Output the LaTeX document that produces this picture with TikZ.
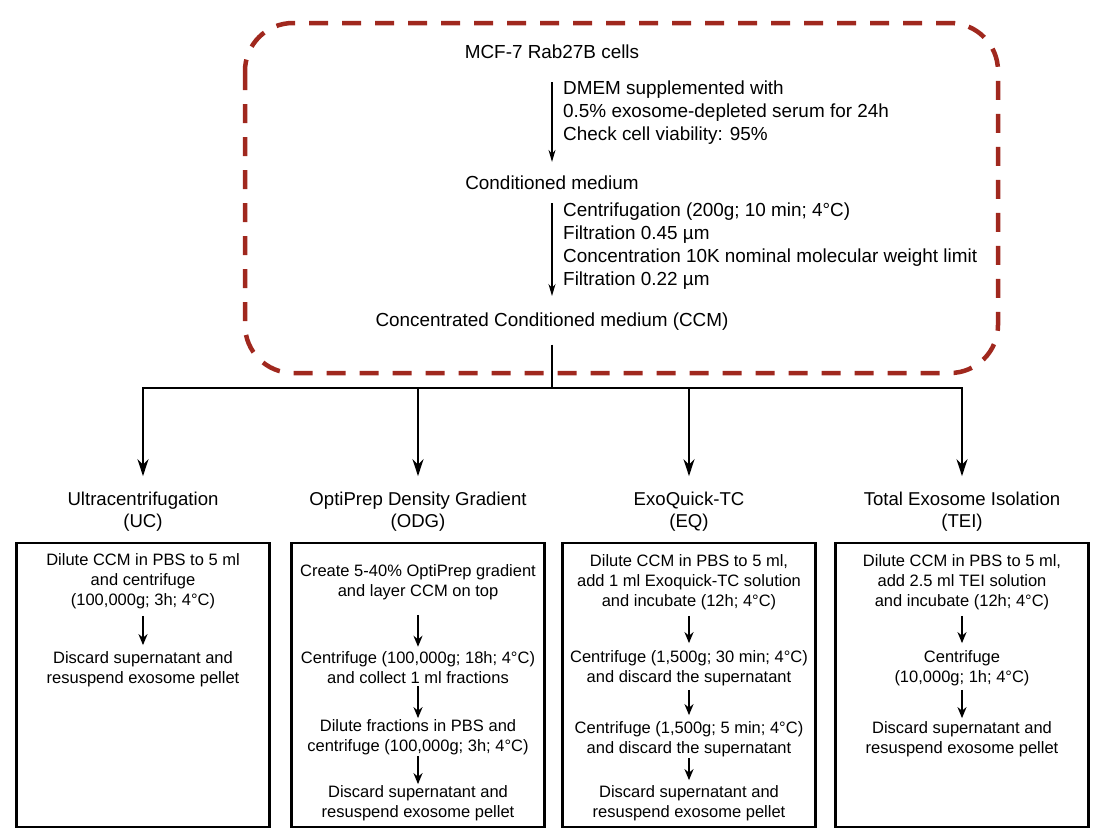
\documentclass[tikz,border=0pt]{standalone}
\usepackage{fontspec}
\setmainfont{Liberation Sans}
\usepackage{tikz}
\usetikzlibrary{positioning}
\usetikzlibrary{arrows.meta}
\definecolor{dashred}{RGB}{160,40,30}

\begin{document}
\begin{tikzpicture}[x=1pt,y=-1pt,
    toptext/.style={font=\fontsize{18.9}{23}\selectfont, inner sep=0pt},
    note/.style={font=\fontsize{18.9}{23}\selectfont, align=left, anchor=west, inner sep=0pt},
    methodtitle/.style={font=\fontsize{18.6}{22}\selectfont, align=center, inner sep=0pt},
    method/.style={draw, line width=2.4pt, minimum width=253pt, minimum height=284pt, inner sep=0pt},
    stepnode/.style={font=\fontsize{16.5}{20}\selectfont, align=center, inner sep=0pt},
    flow/.style={-{Stealth[length=12pt,width=7pt]}, line width=1.3pt},
    branch/.style={-{Stealth[length=17pt,width=11pt]}, line width=2pt},
    stepflow/.style={-{Stealth[length=11pt,width=9pt]}, line width=2pt, shorten <=5pt, shorten >=5pt}]
  \useasboundingbox (0,0) rectangle (1108,836);

  \draw[dashred, line width=4.5pt, dash pattern=on 19pt off 14pt, rounded corners=48pt]
    (245,23) rectangle (998,373);

  \node[toptext] (cells) at (552,52) {MCF-7 Rab27B cells};
  \node[toptext] (cond) at (552,183) {Conditioned medium};
  \node[toptext] (ccm) at (552,322) {Concentrated Conditioned medium (CCM)};
  \node[note] (culture) at (563,112.5) {DMEM supplemented with\\0.5\% exosome-depleted serum for 24h\\Check cell viability: 95\%};
  \node[note] (prep) at (563,246) {Centrifugation (200g; 10 min; 4°C)\\Filtration 0.45 µm\\Concentration 10K nominal molecular weight limit\\Filtration 0.22 µm};
  \draw[flow, shorten <=23pt, shorten >=14pt] (cells) -- (cond);
  \draw[flow, shorten <=13pt, shorten >=17pt] (cond) -- (ccm);

  \coordinate (split) at (552,388);
  \draw[line width=2pt, shorten <=13.5pt] (ccm) -- (split);

  \foreach \i/\x/\label in {1/143/{Ultracentrifugation\\(UC)},
                            2/418/{OptiPrep Density Gradient\\(ODG)},
                            3/689/{ExoQuick-TC\\(EQ)},
                            4/962/{Total Exosome Isolation\\(TEI)}} {
    \node[methodtitle] (title\i) at (\x,512) {\label};
    \node[method] (box\i) at (\x,685) {};
    \draw[branch, shorten >=16pt] (split) -| (title\i);
  }

  \node[stepnode] (uc1) at (143,581) {Dilute CCM in PBS to 5 ml\\and centrifuge\\(100,000g; 3h; 4°C)};
  \node[stepnode] (uc2) at (143,669) {Discard supernatant and\\resuspend exosome pellet};
  \draw[stepflow, shorten <=7pt, shorten >=6pt] (uc1) -- (uc2);

  \node[stepnode] (odg1) at (418,582) {Create 5-40\% OptiPrep gradient\\and layer CCM on top};
  \node[stepnode] (odg2) at (418,668) {Centrifuge (100,000g; 18h; 4°C)\\and collect 1 ml fractions};
  \node[stepnode] (odg3) at (418,737) {Dilute fractions in PBS and\\centrifuge (100,000g; 3h; 4°C)};
  \node[stepnode] (odg4) at (418,803) {Discard supernatant and\\resuspend exosome pellet};
  \draw[stepflow, shorten <=15pt, shorten >=5pt] (odg1) -- (odg2);
  \draw[stepflow, shorten <=2pt, shorten >=1pt] (odg2) -- (odg3);
  \draw[stepflow, shorten <=1pt, shorten >=1pt] (odg3) -- (odg4);

  \node[stepnode] (eq1) at (689,582) {Dilute CCM in PBS to 5 ml,\\add 1 ml Exoquick-TC solution\\and incubate (12h; 4°C)};
  \node[stepnode] (eq2) at (689,668) {Centrifuge (1,500g; 30 min; 4°C)\\and discard the supernatant};
  \node[stepnode] (eq3) at (689,739) {Centrifuge (1,500g; 5 min; 4°C)\\and discard the supernatant};
  \node[stepnode] (eq4) at (689,803) {Discard supernatant and\\resuspend exosome pellet};
  \draw[stepflow, shorten <=6pt, shorten >=7pt] (eq1) -- (eq2);
  \draw[stepflow, shorten <=4pt, shorten >=6pt] (eq2) -- (eq3);
  \draw[stepflow, shorten <=1pt, shorten >=5pt] (eq3) -- (eq4);

  \node[stepnode] (tei1) at (962,582) {Dilute CCM in PBS to 5 ml,\\add 2.5 ml TEI solution\\and incubate (12h; 4°C)};
  \node[stepnode] (tei2) at (962,668) {Centrifuge\\(10,000g; 1h; 4°C)};
  \node[stepnode] (tei3) at (962,739) {Discard supernatant and\\resuspend exosome pellet};
  \draw[stepflow, shorten <=6pt, shorten >=7pt] (tei1) -- (tei2);
  \draw[stepflow, shorten <=4pt, shorten >=3pt] (tei2) -- (tei3);
\end{tikzpicture}
\end{document}
